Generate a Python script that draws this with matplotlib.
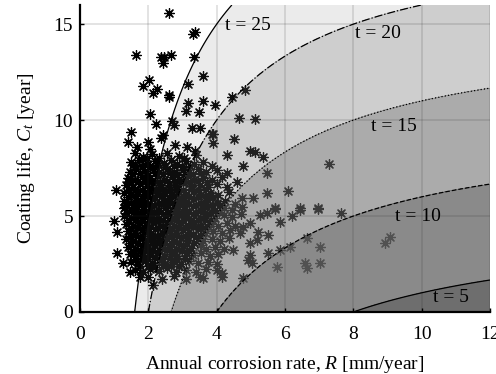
import numpy as np
import matplotlib.pyplot as plt

plt.rcParams['font.family'] = ['Liberation Serif', 'DejaVu Serif']
plt.rcParams['mathtext.fontset'] = 'custom'
plt.rcParams['mathtext.rm'] = 'Liberation Serif'
plt.rcParams['mathtext.it'] = 'Liberation Serif:italic'

# life contours t = C_t + K / R
K = 40.0
levels = [0, 5, 10, 15, 20, 25]
line_levels = [5, 10, 15, 20, 25]
line_styles = ['-', '--', ':', '-.', '-']
band_alpha = [0.97, 0.78, 0.56, 0.32, 0.13]
label_text = ['t = 5', 't = 10', 't = 15', 't = 20', 't = 25']
label_r = [10.86, 9.89, 9.19, 8.72, 4.92]
label_c = [0.73, 5.0, 9.69, 14.5, 14.95]

# scattered samples (R [mm/year], C_t [year]) - outer points
r_out = [2.60, 3.37, 3.31, 1.64, 2.37, 2.46, 2.66, 2.43, 3.34, 3.60, 2.02, 1.85,
         2.25, 2.14, 2.60, 2.60, 3.16, 3.16, 3.60, 3.95, 3.10, 3.48, 2.05, 2.22,
         2.69, 2.75, 3.28, 3.51, 3.86, 1.49, 2.43, 2.37, 1.40, 1.67, 1.99, 2.05,
         2.78, 3.13, 3.37, 1.96, 1.90, 1.55, 1.40, 1.05, 1.32, 0.99, 1.08, 1.08,
         1.26, 1.46, 1.76, 2.14, 3.60, 4.00, 4.65, 5.12, 3.90, 3.90, 4.50, 4.30,
         4.97, 5.12, 5.36, 4.77, 7.29, 4.30, 5.47, 4.60, 6.09, 5.47, 5.06, 4.74,
         5.70, 6.44, 6.97, 6.44, 6.97, 7.63, 6.20, 5.27, 5.47, 5.70, 5.85, 6.64,
         7.02, 7.02, 6.58, 6.64, 5.76, 6.15, 5.85, 5.50, 5.50, 5.20, 5.18, 4.97,
         4.97, 4.92, 5.03, 4.77, 4.16, 4.16, 4.48, 4.97, 4.77, 4.68, 8.93, 9.07,
         4.45, 4.83]
c_out = [15.6, 14.6, 14.5, 13.4, 13.3, 13.3, 13.4, 13.0, 13.3, 12.3, 12.1, 11.8,
         11.6, 11.4, 11.3, 11.2, 11.9, 10.9, 11.0, 10.8, 10.5, 10.4, 10.3, 9.8,
         9.95, 9.74, 9.6, 9.6, 9.3, 9.4, 9.2, 9.06, 8.85, 8.6, 8.85, 8.5,
         8.7, 8.6, 8.4, 8.0, 7.66, 7.66, 6.8, 6.35, 5.47, 4.74, 4.17, 3.07,
         2.55, 2.08, 1.82, 1.41, 1.77, 2.2, 10.1, 10.05, 9.3, 8.8, 9.0, 8.2,
         8.4, 8.33, 8.1, 7.6, 7.7, 7.24, 7.24, 6.77, 6.3, 6.2, 5.94, 5.94,
         5.42, 5.42, 5.42, 5.3, 5.36, 5.16, 5.0, 5.05, 5.16, 5.36, 4.7, 3.85,
         3.39, 2.55, 2.55, 2.29, 2.34, 3.39, 3.23, 3.07, 4.0, 4.17, 3.75, 3.6,
         2.97, 2.7, 2.55, 1.77, 2.03, 1.82, 3.23, 4.64, 4.43, 4.11, 3.6, 3.9,
         11.2, 11.56]

# dense core of the cloud
core = [
    (1.62, 8.3), (1.85, 8.1), (2.1, 8.25), (2.3, 8.0), (2.55, 8.3), (2.9, 8.15), (3.05, 8.0), (3.4, 8.2),
    (1.5, 7.8), (1.72, 7.9), (2.0, 7.7), (2.2, 7.85), (2.45, 7.75), (2.65, 7.9), (2.85, 7.7), (3.1, 7.85),
    (3.35, 7.7), (3.6, 7.8), (3.85, 7.6),
    (1.45, 7.3), (1.65, 7.45), (1.9, 7.35), (2.1, 7.5), (2.3, 7.3), (2.55, 7.45), (2.75, 7.3), (3.0, 7.4),
    (3.2, 7.3), (3.45, 7.45), (3.7, 7.3), (4.0, 7.4),
    (1.4, 7.0), (1.6, 6.9), (1.8, 7.05), (2.0, 6.95), (2.25, 7.1), (2.45, 6.9), (2.7, 7.05), (2.9, 6.95),
    (3.15, 7.1), (3.35, 6.9), (3.6, 7.0), (3.85, 6.9), (4.15, 7.05),
    (1.35, 6.6), (1.55, 6.5), (1.75, 6.65), (1.95, 6.55), (2.15, 6.7), (2.35, 6.5), (2.6, 6.6), (2.8, 6.5),
    (3.0, 6.7), (3.25, 6.55), (3.5, 6.6), (3.75, 6.5), (4.0, 6.65), (4.3, 6.5),
    (1.3, 6.2), (1.5, 6.1), (1.7, 6.25), (1.9, 6.15), (2.1, 6.3), (2.3, 6.1), (2.5, 6.2), (2.7, 6.1),
    (2.9, 6.25), (3.1, 6.15), (3.35, 6.3), (3.55, 6.1), (3.8, 6.2), (4.05, 6.1), (4.35, 6.25),
    (1.3, 5.8), (1.5, 5.7), (1.7, 5.85), (1.9, 5.75), (2.1, 5.9), (2.3, 5.7), (2.5, 5.8), (2.7, 5.7),
    (2.9, 5.85), (3.1, 5.75), (3.3, 5.9), (3.55, 5.7), (3.75, 5.85), (4.0, 5.7), (4.25, 5.8), (4.55, 5.65),
    (1.28, 5.4), (1.48, 5.3), (1.68, 5.45), (1.88, 5.35), (2.08, 5.5), (2.28, 5.3), (2.48, 5.4), (2.68, 5.3),
    (2.88, 5.45), (3.08, 5.35), (3.3, 5.5), (3.5, 5.3), (3.72, 5.45), (3.95, 5.3), (4.2, 5.4), (4.45, 5.3),
    (4.75, 5.45),
    (1.3, 5.0), (1.5, 4.9), (1.7, 5.05), (1.9, 4.95), (2.1, 5.1), (2.3, 4.9), (2.5, 5.0), (2.7, 4.9),
    (2.9, 5.05), (3.1, 4.95), (3.3, 5.1), (3.5, 4.9), (3.7, 5.0), (3.95, 4.9), (4.2, 5.05), (4.45, 4.95),
    (4.7, 5.1),
    (1.35, 4.6), (1.55, 4.5), (1.75, 4.65), (1.95, 4.55), (2.15, 4.7), (2.35, 4.5), (2.55, 4.6), (2.75, 4.5),
    (2.95, 4.65), (3.15, 4.55), (3.35, 4.7), (3.55, 4.5), (3.8, 4.6), (4.05, 4.5), (4.3, 4.65), (4.55, 4.5),
    (1.4, 4.2), (1.6, 4.1), (1.8, 4.25), (2.0, 4.15), (2.2, 4.3), (2.4, 4.1), (2.6, 4.2), (2.8, 4.1),
    (3.0, 4.25), (3.2, 4.15), (3.45, 4.3), (3.65, 4.1), (3.9, 4.2), (4.15, 4.1), (4.4, 4.25),
    (1.35, 3.8), (1.55, 3.7), (1.75, 3.85), (1.95, 3.75), (2.15, 3.9), (2.35, 3.7), (2.55, 3.8), (2.75, 3.7),
    (2.95, 3.85), (3.15, 3.75), (3.4, 3.9), (3.6, 3.7), (3.85, 3.8), (4.1, 3.7), (4.35, 3.85),
    (1.4, 3.4), (1.6, 3.3), (1.8, 3.45), (2.0, 3.35), (2.2, 3.5), (2.4, 3.3), (2.6, 3.4), (2.8, 3.3),
    (3.0, 3.45), (3.25, 3.35), (3.5, 3.5), (3.7, 3.3), (3.95, 3.4), (4.2, 3.3),
    (1.45, 3.0), (1.65, 2.9), (1.85, 3.05), (2.05, 2.95), (2.25, 3.1), (2.45, 2.9), (2.65, 3.0), (2.85, 2.9),
    (3.1, 3.05), (3.3, 2.95), (3.55, 3.1), (3.8, 2.9), (4.05, 3.0),
    (1.5, 2.6), (1.7, 2.5), (1.9, 2.65), (2.1, 2.55), (2.3, 2.7), (2.5, 2.5), (2.75, 2.6), (2.95, 2.5),
    (3.2, 2.65), (3.45, 2.55), (3.75, 2.6), (4.0, 2.5),
    (1.6, 2.2), (1.85, 2.1), (2.05, 2.25), (2.3, 2.15), (2.55, 2.3), (2.8, 2.1), (3.1, 2.2), (3.4, 2.1),
    (3.7, 2.25),
    (2.0, 1.8), (2.4, 1.7), (2.75, 1.85), (3.1, 1.7), (3.5, 1.8),
]
# inner fill of the cloud, between the rows above
core_inner = [
    (1.6, 7.6), (1.82, 7.62), (2.05, 7.58), (2.28, 7.64), (2.5, 7.56), (2.75, 7.62), (2.98, 7.58), (3.22, 7.6),
    (1.52, 7.18), (1.75, 7.22), (1.98, 7.16), (2.2, 7.24), (2.42, 7.18), (2.62, 7.22), (2.85, 7.16), (3.08, 7.2), (3.3, 7.18), (3.55, 7.22),
    (1.48, 6.78), (1.7, 6.82), (1.9, 6.76), (2.12, 6.84), (2.35, 6.78), (2.55, 6.82), (2.78, 6.76), (3.0, 6.82), (3.22, 6.78), (3.45, 6.82), (3.72, 6.76),
    (1.42, 6.38), (1.62, 6.42), (1.82, 6.36), (2.02, 6.44), (2.22, 6.38), (2.42, 6.42), (2.62, 6.36), (2.82, 6.42), (3.02, 6.38), (3.24, 6.42), (3.46, 6.36), (3.7, 6.4),
    (1.4, 5.98), (1.6, 6.02), (1.8, 5.96), (2.0, 6.04), (2.2, 5.98), (2.4, 6.02), (2.6, 5.96), (2.8, 6.02), (3.0, 5.98), (3.2, 6.02), (3.44, 5.98), (3.66, 6.02), (3.9, 5.98),
    (1.38, 5.58), (1.58, 5.62), (1.78, 5.56), (1.98, 5.64), (2.18, 5.58), (2.38, 5.62), (2.58, 5.56), (2.78, 5.62), (2.98, 5.58), (3.2, 5.62), (3.4, 5.58), (3.62, 5.62), (3.85, 5.58), (4.1, 5.6),
    (1.38, 5.18), (1.58, 5.22), (1.78, 5.16), (1.98, 5.24), (2.18, 5.18), (2.38, 5.22), (2.58, 5.16), (2.78, 5.22), (2.98, 5.18), (3.2, 5.22), (3.4, 5.18), (3.6, 5.22), (3.82, 5.16), (4.08, 5.2),
    (1.42, 4.78), (1.62, 4.82), (1.82, 4.76), (2.02, 4.84), (2.22, 4.78), (2.42, 4.82), (2.62, 4.76), (2.82, 4.82), (3.02, 4.78), (3.24, 4.82), (3.44, 4.78), (3.65, 4.82), (3.88, 4.76),
    (1.48, 4.38), (1.68, 4.42), (1.88, 4.36), (2.08, 4.44), (2.28, 4.38), (2.48, 4.42), (2.68, 4.36), (2.88, 4.42), (3.08, 4.38), (3.3, 4.42), (3.52, 4.38), (3.75, 4.42),
    (1.45, 3.98), (1.65, 4.02), (1.85, 3.96), (2.05, 4.04), (2.25, 3.98), (2.45, 4.02), (2.65, 3.96), (2.85, 4.02), (3.08, 3.98), (3.3, 4.02), (3.55, 3.98),
    (1.5, 3.58), (1.7, 3.62), (1.9, 3.56), (2.1, 3.64), (2.3, 3.58), (2.5, 3.62), (2.7, 3.56), (2.9, 3.62), (3.12, 3.58), (3.35, 3.62),
    (1.55, 3.18), (1.75, 3.22), (1.95, 3.16), (2.15, 3.24), (2.35, 3.18), (2.55, 3.22), (2.75, 3.16), (2.98, 3.22), (3.2, 3.18),
    (1.6, 2.78), (1.8, 2.82), (2.0, 2.76), (2.2, 2.84), (2.4, 2.78), (2.62, 2.82), (2.85, 2.76), (3.08, 2.8),
    (1.75, 2.4), (1.98, 2.42), (2.2, 2.36), (2.42, 2.44), (2.65, 2.38), (2.9, 2.42),
]
r_core = [p[0] for p in core + core_inner]
c_core = [p[1] for p in core + core_inner]

fig = plt.figure(figsize=(4.96, 3.74), dpi=100)
ax = fig.add_axes([0.1613, 0.1658, 0.8266, 0.8209])

ax.scatter(r_out + r_core, c_out + c_core, s=50, marker=(8, 2, 0),
           color='black', linewidths=0.9, zorder=1)

Rg, Cg = np.meshgrid(np.linspace(0.05, 12, 600), np.linspace(0, 16, 400))
T = Cg + K / Rg
band_cols = [(0.41, 0.41, 0.41, a) for a in band_alpha]
ax.contourf(Rg, Cg, T, levels=levels, colors=band_cols, zorder=1.5)
ax.contour(Rg, Cg, T, levels=line_levels, colors='black',
           linestyles=line_styles, linewidths=0.9, zorder=3)

for txt, xr, yc in zip(label_text, label_r, label_c):
    ax.text(xr, yc, txt, fontsize=14, ha='center', va='center', zorder=4)

ax.set_xlim(0, 12)
ax.set_ylim(0, 16)
ax.set_xticks([0, 2, 4, 6, 8, 10, 12])
ax.set_yticks([0, 5, 10, 15])
ax.set_axisbelow(False)
ax.grid(True, color='#262626', alpha=0.15, linewidth=1.2)
ax.tick_params(direction='in', length=3, width=1, labelsize=14, pad=5)
ax.tick_params(axis='x', pad=10)
for s in ['top', 'right']:
    ax.spines[s].set_visible(False)
for s in ['left', 'bottom']:
    ax.spines[s].set_linewidth(1.6)
    ax.spines[s].set_zorder(5)

ax.set_xlabel('Annual corrosion rate, $R$ [mm/year]', fontsize=14, labelpad=8)
ax.set_ylabel('Coating life, $C_t$ [year]', fontsize=14, labelpad=12)

fig.savefig('out.png', dpi=100)
